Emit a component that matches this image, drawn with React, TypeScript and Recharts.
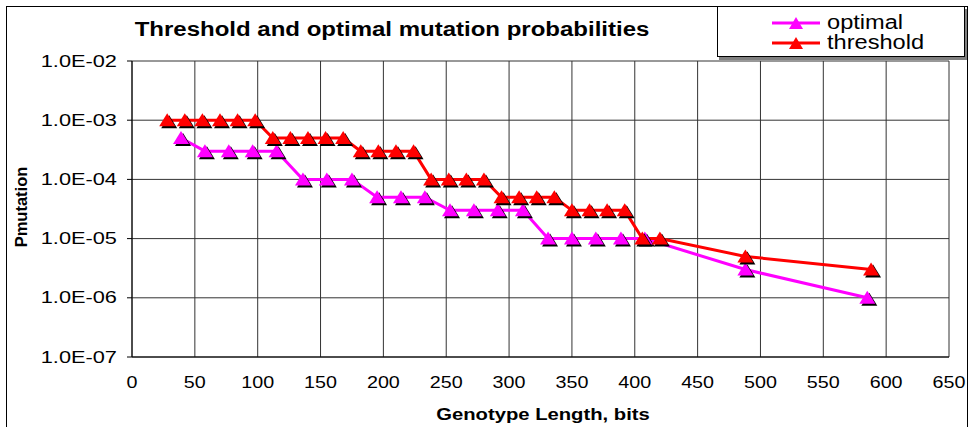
import React from 'react';
import { LineChart, Line, XAxis, YAxis, CartesianGrid } from 'recharts';

const optimalX = [39, 58, 77, 96, 115, 136, 155, 175, 195, 214, 233, 253, 272, 291, 311, 331, 350, 369, 389, 408, 488, 585];
const optimalP = [5e-4, 3e-4, 3e-4, 3e-4, 3e-4, 1e-4, 1e-4, 1e-4, 5e-5, 5e-5, 5e-5, 3e-5, 3e-5, 3e-5, 3e-5, 1e-5, 1e-5, 1e-5, 1e-5, 1e-5, 3e-6, 1e-6];

const thresholdX = [28, 42, 56, 70, 84, 98, 112, 126, 140, 154, 168, 182, 196, 210, 224, 238, 252, 266, 280, 294, 308, 322, 336, 350, 364, 378, 392, 406, 420, 488, 588];
const thresholdP = [1e-3, 1e-3, 1e-3, 1e-3, 1e-3, 1e-3, 5e-4, 5e-4, 5e-4, 5e-4, 5e-4, 3e-4, 3e-4, 3e-4, 3e-4, 1e-4, 1e-4, 1e-4, 1e-4, 5e-5, 5e-5, 5e-5, 5e-5, 3e-5, 3e-5, 3e-5, 3e-5, 1e-5, 1e-5, 5e-6, 3e-6];

const xTicks = [0, 50, 100, 150, 200, 250, 300, 350, 400, 450, 500, 550, 600, 650];
const yTicks = [1e-7, 1e-6, 1e-5, 1e-4, 1e-3, 1e-2];

const optimalData = optimalX.map((x, i) => ({ x, p: optimalP[i] }));
const thresholdData = thresholdX.map((x, i) => ({ x, p: thresholdP[i] }));

const FONT = 'Arial, "Liberation Sans", sans-serif';

const fmtExp = (v: number) => {
  const e = Math.round(Math.log10(v));
  const s = Math.abs(e).toString().padStart(2, '0');
  return `1.0E${e < 0 ? '-' : '+'}${s}`;
};

// triangle marker with a black drop shadow, like the old excel look
const Tri = (color: string) => (props: any) => {
  const { cx, cy, index } = props;
  if (cx == null || cy == null) return null;
  const pts = (dx: number, dy: number) =>
    `${cx + dx},${cy - 7 + dy} ${cx - 8 + dx},${cy + 6 + dy} ${cx + 8 + dx},${cy + 6 + dy}`;
  return (
    <g key={`t-${index}`}>
      <polygon points={pts(2, 2)} fill="#000" />
      <polygon points={pts(0, 0)} fill={color} />
    </g>
  );
};

// the source image is stretched sideways, so text gets a scaleX around its anchor
const YTick = (props: any) => {
  const { x, y, payload } = props;
  return (
    <text x={x} y={y} textAnchor="end" dominantBaseline="central" fontSize={16.5} fontFamily={FONT} fill="#000"
      transform={`translate(${x} 0) scale(1.32 1) translate(${-x} 0)`}>
      {fmtExp(payload.value)}
    </text>
  );
};

const XTick = (props: any) => {
  const { x, y, payload } = props;
  return (
    <text x={x} y={y} textAnchor="middle" dominantBaseline="central" fontSize={17} fontFamily={FONT} fill="#000"
      transform={`translate(${x} 0) scale(1.16 1) translate(${-x} 0)`}>
      {payload.value}
    </text>
  );
};

const stretched = (left: number, top: number, size: number, bold: boolean, k = 1.19): React.CSSProperties => ({
  position: 'absolute', left, top, fontSize: size, fontWeight: bold ? 'bold' : 'normal', whiteSpace: 'nowrap',
  transform: `translateX(-50%) scaleX(${k})`, transformOrigin: 'center',
});

const LegendRow = ({ y, color, label }: { y: number; color: string; label: string }) => (
  <>
    <svg width={50} height={16} style={{ position: 'absolute', left: 772, top: y - 8 }}>
      <line x1={0} y1={8} x2={48} y2={8} stroke={color} strokeWidth={3} />
      <polygon points="24,2 17,14 31,14" fill={color} />
    </svg>
    <div style={{ position: 'absolute', left: 827, top: y - 12, fontSize: 20, whiteSpace: 'nowrap', transform: 'scaleX(1.18)', transformOrigin: 'left' }}>
      {label}
    </div>
  </>
);

export default function App() {
  return (
    <div style={{ position: 'absolute', left: 0, top: 0, width: 968, height: 427, background: '#fff', fontFamily: FONT, overflow: 'hidden' }}>
      <div style={{ position: 'absolute', left: 6, top: 6, width: 960, height: 440, border: '1px solid #000' }} />
      <div style={stretched(392, 18, 20, true, 1.2)}>Threshold and optimal mutation probabilities</div>
      <div
        style={{
          position: 'absolute', left: 717, top: 6, width: 246, height: 49, border: '1px solid #000',
          boxShadow: '2px 3px 0 #808080', background: '#fff',
        }}
      />
      <LegendRow y={23} color="#ff00ff" label="optimal" />
      <LegendRow y={43} color="#ff0000" label="threshold" />
      <div
        style={{
          position: 'absolute', left: 20.5, top: 207, transform: 'translate(-50%, -50%) rotate(-90deg)',
          fontWeight: 'bold', fontSize: 16.5, whiteSpace: 'nowrap',
        }}
      >
        Pmutation
      </div>
      <div style={stretched(543, 405, 17, true)}>Genotype Length, bits</div>
      <div style={{ position: 'absolute', left: 0, top: 0 }}>
        <LineChart width={968} height={427} margin={{ top: 61, right: 19, left: 0, bottom: 0 }}>
          <CartesianGrid stroke="#333" strokeWidth={1} />
          <XAxis
            type="number"
            dataKey="x"
            domain={[0, 650]}
            ticks={xTicks}
            interval={0}
            allowDuplicatedCategory={false}
            height={70}
            tickSize={0}
            tickMargin={25}
            axisLine={{ stroke: '#000' }}
            tick={<XTick />}
          />
          <YAxis
            type="number"
            dataKey="p"
            scale="log"
            domain={[1e-7, 1e-2]}
            ticks={yTicks}
            interval={0}
            allowDataOverflow
            width={132}
            tickSize={5}
            tickMargin={10}
            axisLine={{ stroke: '#000' }}
            tickLine={{ stroke: '#000' }}
            tick={<YTick />}
          />
          <Line
            data={optimalData}
            dataKey="p"
            type="linear"
            stroke="#ff00ff"
            strokeWidth={3}
            dot={Tri('#ff00ff')}
            activeDot={false}
            isAnimationActive={false}
          />
          <Line
            data={thresholdData}
            dataKey="p"
            type="linear"
            stroke="#ff0000"
            strokeWidth={3}
            dot={Tri('#ff0000')}
            activeDot={false}
            isAnimationActive={false}
          />
        </LineChart>
      </div>
    </div>
  );
}
